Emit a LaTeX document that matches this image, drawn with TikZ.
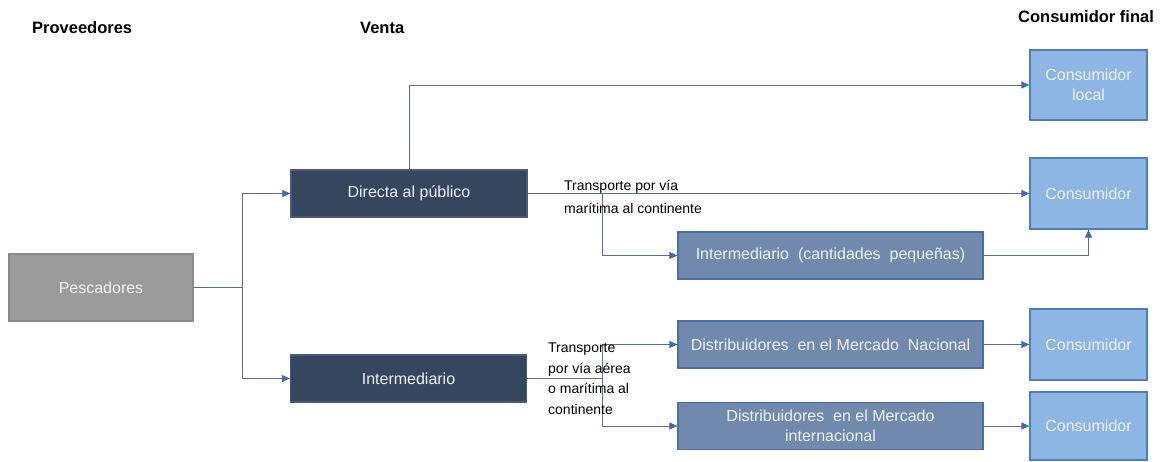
\documentclass[tikz,border=0pt]{standalone}
\usepackage{fontspec}
\setmainfont{Liberation Sans}
\usetikzlibrary{arrows.meta}
\definecolor{darkbox}{HTML}{36465F}
\definecolor{darkedge}{HTML}{4A5A78}
\definecolor{midbox}{HTML}{7189AD}
\definecolor{midedge}{HTML}{4B6EA8}
\definecolor{lightbox}{HTML}{8DB6E4}
\definecolor{lightedge}{HTML}{4F7DBB}
\definecolor{greybox}{HTML}{9B9B9B}
\definecolor{greyedge}{HTML}{8A8A8A}
\definecolor{linecol}{HTML}{5E6E98}
\definecolor{tipcol}{HTML}{4565B5}
\definecolor{boxtext}{HTML}{EEF2F8}
\tikzset{
  box/.style={draw, line width=1.2pt, inner sep=2pt, align=center, text=boxtext,
    font=\fontsize{16}{20}\selectfont},
  darkst/.style={box, fill=darkbox, draw=darkedge, minimum width=236pt, minimum height=47pt},
  midst/.style={box, fill=midbox, draw=midedge, minimum width=305pt, minimum height=47pt},
  lightst/.style={box, fill=lightbox, draw=lightedge, minimum width=117pt, minimum height=70pt},
  greyst/.style={box, fill=greybox, draw=greyedge, minimum width=184pt, minimum height=67pt},
  conn/.style={draw=linecol, line width=1pt},
  arr/.style={conn, -{Triangle[length=8pt,width=7pt,fill=tipcol,color=tipcol]}},
  header/.style={font=\fontsize{16.5}{20}\selectfont\bfseries, anchor=base west, inner sep=0pt},
  lbl/.style={anchor=base west, inner sep=0pt, align=left, text=black},
}
\begin{document}
\begin{tikzpicture}[x=1pt,y=-1pt]
\useasboundingbox (0,0) rectangle (1161,461);
% headers
\node[header] (hprov) at (32,33) {Proveedores};
\node[header] (hventa) at (360,33) {Venta};
\node[header] (hcons) at (1018,22) {Consumidor final};
% boxes
\node[greyst] (pesc) at (101,287.5) {Pescadores};
\node[darkst] (dir) at (409,193.5) {Directa al público};
\node[darkst] (int) at (408.5,378.5) {Intermediario};
\node[midst] (icp) at (830.5,255.5) {Intermediario\ \ (cantidades\ \ pequeñas)};
\node[midst] (dmn) at (830.5,344.5) {Distribuidores\ \ en el Mercado\ \ Nacional};
\node[midst] (dmi) at (830.5,426) {Distribuidores\ \ en el Mercado\\internacional};
\node[lightst] (cl) at (1088.5,85) {Consumidor\\local};
\node[lightst, minimum height=71pt] (c2) at (1088.5,193.5) {Consumidor};
\node[lightst, minimum height=71pt] (c3) at (1088.5,344.5) {Consumidor};
\node[lightst, minimum height=68pt] (c4) at (1088.5,426) {Consumidor};
% connectors
\draw[conn] (pesc.east) -- (242,287.5) coordinate (j1);
\draw[arr] (j1) |- (dir.west);
\draw[arr] (j1) |- (int.west);
\draw[arr] (dir.north) |- (cl.west);
\draw[arr] (dir.east) -- (c2.west);
\coordinate (j2) at (602,193.5);
\draw[arr] (j2) |- (icp.west);
\draw[arr] (icp.east) -| (c2.south);
\draw[conn] (int.east) -- (602,378.5) coordinate (j3);
\draw[arr] (j3) |- (dmn.west);
\draw[arr] (j3) |- (dmi.west);
\draw[arr] (dmn.east) -- (c3.west);
\draw[arr] (dmi.east) -- (c4.west);
% labels (anchor base = baseline of last line)
\node[lbl, font=\fontsize{14}{23}\selectfont] (l1) at (564,213) {Transporte por vía\\marítima al continente};
\node[lbl, font=\fontsize{14}{20.5}\selectfont] (l2) at (548,414) {Transporte\\por vía aérea\\o marítima al\\continente};
\end{tikzpicture}
\end{document}
